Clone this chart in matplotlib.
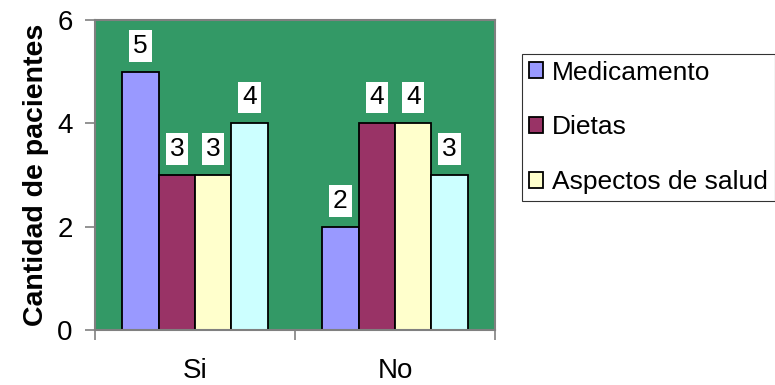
import numpy as np
import matplotlib.pyplot as plt

# Datos del gráfico
categorias = ["Si", "No"]
series = ["Medicamento", "Dietas", "Aspectos de salud", "Otros"]
valores = [
    [5, 2],  # Medicamento
    [3, 4],  # Dietas
    [3, 4],  # Aspectos de salud
    [4, 3],  # Otros (sin entrada en la leyenda)
]
colores = ["#9999FF", "#993366", "#FFFFCC", "#CCFFFF"]
en_leyenda = [True, True, True, False]

plt.rcParams["font.family"] = ["Liberation Sans", "DejaVu Sans"]

fig = plt.figure(figsize=(7.75, 3.85), dpi=100)
ax = fig.add_axes([95 / 775, 1 - 330 / 385, 400 / 775, 310 / 385])
ax.set_facecolor("#339966")

x = np.arange(len(categorias))
ancho = 0.182
n = len(series)

for i, (nombre, vals, col) in enumerate(zip(series, valores, colores)):
    pos = x + (i - (n - 1) / 2) * ancho
    etiqueta = nombre if en_leyenda[i] else "_nolegend_"
    ax.bar(pos, vals, width=ancho, color=col, edgecolor="black",
           linewidth=1.3, label=etiqueta, zorder=2)
    for px, v in zip(pos, vals):
        ax.text(px, v + 0.5, str(v), ha="center", va="center", fontsize=19,
                color="black",
                bbox=dict(boxstyle="square,pad=0.15", fc="white", ec="none"))

ax.set_xlim(-0.5, 1.5)
ax.set_ylim(0, 6)
ax.set_yticks([0, 2, 4, 6])
ax.set_xticks(x)
ax.set_xticklabels(categorias)
ax.set_xticks([-0.5, 0.5, 1.5], minor=True)
ax.tick_params(axis="x", which="major", length=0, pad=20, labelsize=20)
ax.tick_params(axis="x", which="minor", length=7, color="#808080", width=1.2)
ax.tick_params(axis="y", length=7, color="#808080", width=1.2, labelsize=20,
               pad=9)

for lado in ["left", "right", "top", "bottom"]:
    ax.spines[lado].set_color("#808080")
    ax.spines[lado].set_linewidth(1.5)

ax.set_ylabel("Cantidad de pacientes", fontsize=20.5, fontweight="bold",
              labelpad=6)

leg = ax.legend(loc="upper left", bbox_to_anchor=(522 / 775, 1 - 54 / 385),
                bbox_transform=fig.transFigure, fontsize=19, frameon=True,
                fancybox=False, edgecolor="black", handlelength=0.55,
                handleheight=0.55, handletextpad=0.35, labelspacing=1.17,
                borderpad=0.25, borderaxespad=0)
leg.get_frame().set_linewidth(0.8)

fig.savefig("out.png", dpi=100)
